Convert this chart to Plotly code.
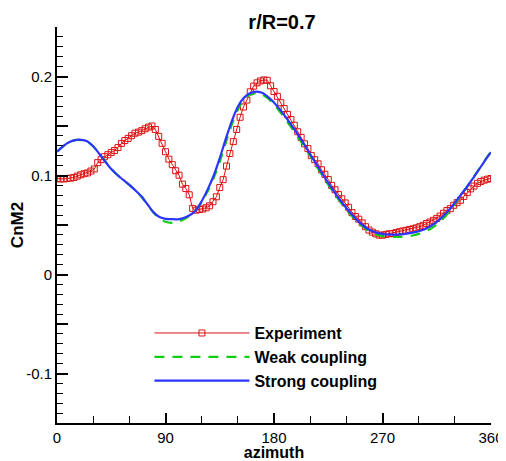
import numpy as np
import plotly.graph_objects as go

# experiment: one value every 360/128 deg
exp_azimuth = np.linspace(0, 360, 129)
exp_cn = [
    0.0970, 0.0965, 0.0965, 0.0970, 0.0973, 0.0980, 0.0994, 0.1007, 0.1018, 0.1026,
    0.1045, 0.1066, 0.1130, 0.1160, 0.1190, 0.1210, 0.1233, 0.1253, 0.1282, 0.1324,
    0.1353, 0.1375, 0.1402, 0.1427, 0.1438, 0.1453, 0.1472, 0.1489, 0.1500, 0.1465,
    0.1395, 0.1325, 0.1240, 0.1165, 0.1110, 0.1048, 0.1003, 0.0913, 0.0868, 0.0805,
    0.0668, 0.0650, 0.0657, 0.0662, 0.0674, 0.0694, 0.0735, 0.0785, 0.0878, 0.0958,
    0.1095, 0.1222, 0.1342, 0.1465, 0.1588, 0.1692, 0.1762, 0.1845, 0.1903, 0.1936,
    0.1955, 0.1965, 0.1962, 0.1906, 0.1848, 0.1800, 0.1735, 0.1677, 0.1617, 0.1565,
    0.1508, 0.1442, 0.1385, 0.1320, 0.1272, 0.1201, 0.1160, 0.1118, 0.1058, 0.1012,
    0.0960, 0.0900, 0.0856, 0.0809, 0.0765, 0.0723, 0.0679, 0.0625, 0.0586, 0.0559,
    0.0522, 0.0483, 0.0449, 0.0428, 0.0411, 0.0398, 0.0397, 0.0405, 0.0411, 0.0414,
    0.0423, 0.0432, 0.0440, 0.0447, 0.0454, 0.0462, 0.0471, 0.0483, 0.0497, 0.0515,
    0.0530, 0.0547, 0.0567, 0.0590, 0.0619, 0.0646, 0.0665, 0.0699, 0.0726, 0.0750,
    0.0789, 0.0827, 0.0865, 0.0893, 0.0921, 0.0940, 0.0953, 0.0963, 0.0970,
]

# simulations: every 5 deg
sim_azimuth = list(range(0, 361, 5))
weak_cn = [
    0.1240, 0.1295, 0.1335, 0.1358, 0.1358, 0.1342, 0.1295, 0.1225, 0.1145, 0.1068,
    0.1008, 0.0956, 0.0905, 0.0848, 0.0785, 0.0705, 0.0625, 0.0565, 0.0532, 0.0522,
    0.0530, 0.0555, 0.0595, 0.0650, 0.0730, 0.0840, 0.0975, 0.1140, 0.1330, 0.1515,
    0.1665, 0.1765, 0.1815, 0.1832, 0.1820, 0.1778, 0.1718, 0.1643, 0.1560, 0.1473,
    0.1385, 0.1293, 0.1197, 0.1100, 0.1003, 0.0908, 0.0818, 0.0733, 0.0655, 0.0585,
    0.0522, 0.0470, 0.0430, 0.0403, 0.0388, 0.0381, 0.0379, 0.0380, 0.0385, 0.0394,
    0.0410, 0.0432, 0.0462, 0.0505, 0.0560, 0.0630, 0.0712, 0.0798, 0.0885, 0.0975,
    0.1065, 0.1155, 0.1245,
]
strong_cn = [
    0.1240, 0.1295, 0.1335, 0.1358, 0.1360, 0.1345, 0.1295, 0.1220, 0.1140, 0.1065,
    0.1005, 0.0955, 0.0905, 0.0850, 0.0790, 0.0710, 0.0630, 0.0580, 0.0562, 0.0560,
    0.0557, 0.0570, 0.0598, 0.0645, 0.0740, 0.0860, 0.1000, 0.1175, 0.1370, 0.1550,
    0.1695, 0.1785, 0.1830, 0.1848, 0.1835, 0.1795, 0.1738, 0.1665, 0.1585, 0.1500,
    0.1410, 0.1315, 0.1215, 0.1118, 0.1020, 0.0925, 0.0835, 0.0750, 0.0672, 0.0600,
    0.0537, 0.0485, 0.0447, 0.0423, 0.0410, 0.0403, 0.0402, 0.0406, 0.0413, 0.0423,
    0.0437, 0.0458, 0.0490, 0.0532, 0.0585, 0.0650, 0.0725, 0.0805, 0.0885, 0.0970,
    0.1060, 0.1150, 0.1235,
]

x_ticks = [0, 90, 180, 270, 360]
y_ticks = [-0.15, -0.1, -0.05, 0, 0.05, 0.1, 0.15, 0.2, 0.25]
y_labels = ['', '-0.1', '', '0', '', '0.1', '', '0.2', '']

FONT = 'Liberation Sans'
# page body has an 8px default margin, so the figure is a bit smaller than the window
W, H = 498, 453

fig = go.Figure()
fig.add_trace(go.Scatter(
    x=exp_azimuth, y=exp_cn, name='Experiment', mode='lines+markers',
    line=dict(color='#dd1111', width=1),
    marker=dict(symbol='square-open', size=6, color='#dd1111', line=dict(width=1)),
))
fig.add_trace(go.Scatter(
    x=sim_azimuth, y=weak_cn, name='Weak coupling', mode='lines',
    line=dict(color='#11cc11', width=2.2, dash='10px,8px', shape='spline', smoothing=0.8),
))
fig.add_trace(go.Scatter(
    x=sim_azimuth, y=strong_cn, name='Strong coupling', mode='lines',
    line=dict(color='#2b35ff', width=2.2, shape='spline', smoothing=0.8),
))

fig.update_layout(
    width=W, height=H,
    margin=dict(l=49, r=15, t=19, b=38, autoexpand=False),
    plot_bgcolor='white', paper_bgcolor='white',
    font=dict(family=FONT, color='black', size=15),
    title=dict(text='r/R=0.7', font=dict(size=20, weight='bold'),
               xref='container', x=274 / W, xanchor='center',
               yref='container', y=1 - 14 / H, yanchor='middle', automargin=False),
    legend=dict(x=0.213, y=0.27, xanchor='left', yanchor='top',
                font=dict(size=16, weight='bold'), itemwidth=95,
                bgcolor='rgba(0,0,0,0)', tracegroupgap=0),
    showlegend=True,
)
fig.update_xaxes(
    range=[0, 360], tickmode='array', tickvals=x_ticks, automargin=False,
    ticks='inside', ticklen=10, tickwidth=2, tickcolor='black',
    minor=dict(dtick=30, ticks='inside', ticklen=7, tickwidth=1, tickcolor='black'),
    showline=True, linewidth=2, linecolor='black', mirror=False,
    showgrid=False, zeroline=False,
    title=dict(text='azimuth', font=dict(size=16, weight='bold'), standoff=3),
    tickfont=dict(size=15),
)
fig.update_yaxes(
    range=[-0.15, 0.25], tickmode='array', tickvals=y_ticks, ticktext=y_labels,
    automargin=False,
    ticks='inside', ticklen=11, tickwidth=2, tickcolor='black',
    minor=dict(dtick=0.01, tick0=0, ticks='inside', ticklen=6, tickwidth=1, tickcolor='black'),
    showline=True, linewidth=2, linecolor='black', mirror=False,
    showgrid=False, zeroline=False,
    title=dict(text='CnM2', font=dict(size=17, weight='bold'), standoff=8),
    tickfont=dict(size=15),
)

fig.write_html("out.html")
